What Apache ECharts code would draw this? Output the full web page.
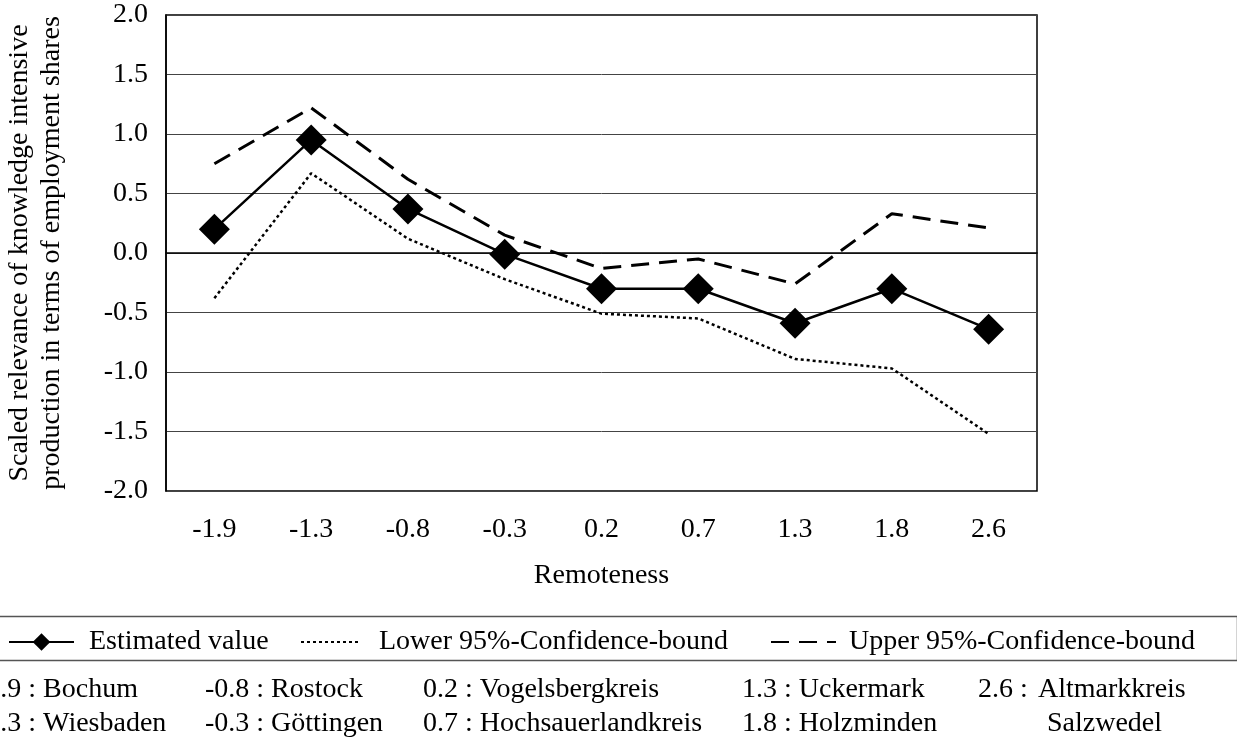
<!DOCTYPE html>
<html>
<head>
<meta charset="utf-8">
<script src="https://cdn.jsdelivr.net/npm/echarts@6/dist/echarts.min.js"></script>
<style>
  html, body { margin: 0; padding: 0; background: #fff; }
  #chart { width: 1237px; height: 744px; }
</style>
</head>
<body>
<div id="chart"></div>
<script>
// remoteness categories (x axis)
const categories = ['-1.9', '-1.3', '-0.8', '-0.3', '0.2', '0.7', '1.3', '1.8', '2.6'];
// series values
const estimated = [0.20, 0.95, 0.37, -0.01, -0.30, -0.30, -0.59, -0.30, -0.64];
const lower = [-0.38, 0.67, 0.12, -0.22, -0.51, -0.55, -0.89, -0.97, -1.52];
const upper = [0.75, 1.22, 0.62, 0.15, -0.13, -0.05, -0.26, 0.33, 0.21];
// region key below the legend
const regions = [
  ['-1.9 : Bochum', '-1.3 : Wiesbaden'],
  ['-0.8 : Rostock', '-0.3 : Göttingen'],
  ['0.2 : Vogelsbergkreis', '0.7 : Hochsauerlandkreis'],
  ['1.3 : Uckermark', '1.8 : Holzminden']
];

const FONT = '"Liberation Serif", "Times New Roman", serif';
const FS = 28;
const chart = echarts.init(document.getElementById('chart'));

// region key laid out as plain text
const colX = [-23, 205, 423, 742];
const rowTop = [676, 710];
const keyTexts = [];
regions.forEach((col, i) => {
  col.forEach((t, j) => {
    keyTexts.push({
      type: 'text', left: colX[i], top: rowTop[j],
      style: { text: t, font: FS + 'px ' + FONT, fill: '#000' }
    });
  });
});
keyTexts.push({ type: 'text', left: 978, top: rowTop[0], style: { text: '2.6 :', font: FS + 'px ' + FONT, fill: '#000' } });
keyTexts.push({ type: 'text', left: 1038, top: rowTop[0], style: { text: 'Altmarkkreis', font: FS + 'px ' + FONT, fill: '#000' } });
keyTexts.push({ type: 'text', left: 1047, top: rowTop[1], style: { text: 'Salzwedel', font: FS + 'px ' + FONT, fill: '#000' } });

const legendText = pad => ({ fontFamily: FONT, fontSize: FS, color: '#000', padding: [0, 0, 0, pad] });
const legendBase = { top: 628, padding: 0, itemHeight: 22, selectedMode: false };

const option = {
  animation: false,
  backgroundColor: '#fff',
  grid: {
    left: 166, right: 200, top: 15, bottom: 253,
    outerBoundsMode: 'none',
    show: true, borderColor: '#000', borderWidth: 1.5, backgroundColor: 'transparent'
  },
  legend: [
    Object.assign({}, legendBase, { left: 8, itemWidth: 65, data: ['Estimated value'],
      textStyle: legendText(10) }),
    Object.assign({}, legendBase, { left: 300, itemWidth: 58, data: ['Lower 95%-Confidence-bound'],
      textStyle: legendText(15), itemStyle: { opacity: 0 } }),
    Object.assign({}, legendBase, { left: 770, itemWidth: 65, data: ['Upper 95%-Confidence-bound'],
      textStyle: legendText(8), itemStyle: { opacity: 0 } })
  ],
  xAxis: {
    type: 'category',
    data: categories,
    boundaryGap: true,
    name: 'Remoteness',
    nameLocation: 'middle',
    nameGap: 71,
    nameTextStyle: { fontFamily: FONT, fontSize: FS, color: '#000' },
    axisLine: { lineStyle: { color: '#000', width: 1.5 } },
    axisTick: { alignWithLabel: true, length: 11, lineStyle: { color: '#000', width: 1.5 } },
    axisLabel: { fontFamily: FONT, fontSize: FS, color: '#000', margin: 25 },
    splitLine: { show: false }
  },
  yAxis: {
    type: 'value',
    min: -2, max: 2, interval: 0.5,
    name: 'Scaled relevance of knowledge intensive\nproduction in terms of employment shares',
    nameLocation: 'middle',
    nameGap: 98,
    nameTextStyle: { fontFamily: FONT, fontSize: FS, color: '#000', lineHeight: 32 },
    axisLine: { show: true, lineStyle: { color: '#000', width: 1.5 } },
    axisTick: { show: false },
    axisLabel: { fontFamily: FONT, fontSize: FS, color: '#000', margin: 18,
      formatter: v => v.toFixed(1) },
    splitLine: { lineStyle: { color: '#444', width: 1 } }
  },
  series: [
    {
      name: 'Estimated value', type: 'line', data: estimated,
      symbol: 'diamond', symbolSize: 31,
      itemStyle: { color: '#000' },
      lineStyle: { color: '#000', width: 2.5 },
      z: 5
    },
    {
      name: 'Lower 95%-Confidence-bound', type: 'line', data: lower,
      symbol: 'none',
      itemStyle: { color: '#000' },
      lineStyle: { color: '#000', width: 2.5, type: [3, 3] }
    },
    {
      name: 'Upper 95%-Confidence-bound', type: 'line', data: upper,
      symbol: 'none',
      itemStyle: { color: '#000' },
      lineStyle: { color: '#000', width: 3, type: [18, 10] }
    }
  ],
  graphic: [
    {
      type: 'rect', left: -5, top: 614,
      shape: { width: 1240, height: 44 },
      style: { fill: 'none', stroke: '#555', lineWidth: 1.5 }
    }
  ].concat(keyTexts)
};

chart.setOption(option);
</script>
</body>
</html>
